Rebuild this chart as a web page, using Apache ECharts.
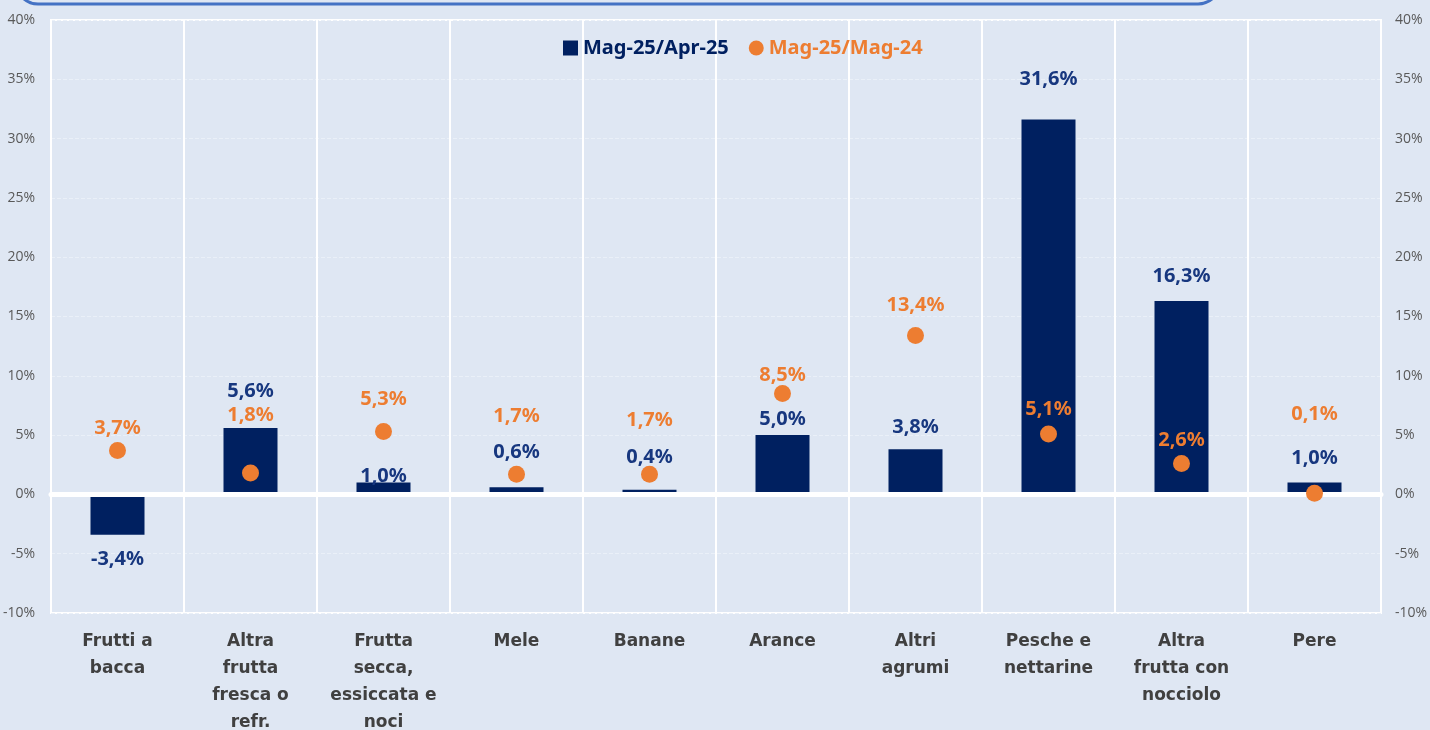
<!DOCTYPE html>
<html>
<head>
<meta charset="utf-8">
<script src="https://cdn.jsdelivr.net/npm/echarts@6/dist/echarts.min.js"></script>
<style>
  html, body { margin: 0; padding: 0; background: #dfe7f3; }
  #chart { width: 1430px; height: 730px; }
</style>
</head>
<body>
<div id="chart"></div>
<script>
// categorie e valori (variazioni %)
const categories = ['Frutti a\nbacca', 'Altra\nfrutta\nfresca o\nrefr.', 'Frutta\nsecca,\nessiccata e\nnoci', 'Mele', 'Banane',
  'Arance', 'Altri\nagrumi', 'Pesche e\nnettarine', 'Altra\nfrutta con\nnocciolo', 'Pere'];
const congiunturale = [-3.4, 5.6, 1.0, 0.6, 0.4, 5.0, 3.8, 31.6, 16.3, 1.0];   // Mag-25/Apr-25
const tendenziale = [3.7, 1.8, 5.3, 1.7, 1.7, 8.5, 13.4, 5.1, 2.6, 0.1];      // Mag-25/Mag-24
const yTicks = { min: -10, max: 40, interval: 5 };

// spostamenti manuali delle etichette (come nel grafico excel)
const barLabelDy = [6, -18, 13, -16, -13, 3, -3, -21, -6, -5];
const dotLabelDy = [-1, -36, -11, -36, -32, 3, -9, -3, -2, -57];

const navy = '#002060';
const navyText = '#17377f';
const orange = '#ed7d31';
const fmt = v => v.toFixed(1).replace('.', ',') + '%';

let chart = echarts.init(document.getElementById('chart'));

let option = {
  backgroundColor: '#dfe7f3',
  animation: false,
  graphic: [{
    type: 'rect',
    shape: { x: 16, y: -40, width: 1204, height: 44, r: 22 },
    style: { fill: 'none', stroke: '#4472c4', lineWidth: 3 }
  }],
  legend: {
    top: 33,
    left: 558,
    itemGap: 20,
    itemWidth: 15,
    itemHeight: 15,
    itemStyle: { borderWidth: 0 },
    textStyle: { fontFamily: 'Noto Sans', fontWeight: 'bold', fontSize: 20 },
    data: [
      { name: 'Mag-25/Apr-25', icon: 'rect', textStyle: { color: navy } },
      { name: 'Mag-25/Mag-24', icon: 'circle', textStyle: { color: orange } }
    ]
  },
  grid: {
    left: 51, right: 49, top: 20, bottom: 117,
    outerBoundsMode: 'none',
    containLabel: false,
    show: true, borderColor: '#ffffff', borderWidth: 2
  },
  xAxis: {
    type: 'category',
    data: categories,
    z: 3,
    axisLine: { onZero: true, lineStyle: { color: '#ffffff', width: 5 } },
    axisTick: { show: false },
    splitLine: { show: true, lineStyle: { color: '#ffffff', width: 2 } },
    axisLabel: {
      interval: 0,
      margin: 15,
      color: '#404040',
      fontFamily: 'DejaVu Sans',
      fontWeight: 'bold',
      fontSize: 17,
      lineHeight: 27
    }
  },
  yAxis: [{
    type: 'value',
    min: yTicks.min, max: yTicks.max, interval: yTicks.interval,
    axisLine: { show: false },
    axisTick: { show: false },
    splitLine: { show: true, lineStyle: { color: '#eaf0f8', type: 'dashed', width: 1 } },
    axisLabel: { formatter: v => v + '%', color: '#595959', fontFamily: 'Open Sans', fontSize: 14, margin: 16 }
  }, {
    type: 'value',
    min: yTicks.min, max: yTicks.max, interval: yTicks.interval,
    axisLine: { show: false },
    axisTick: { show: false },
    splitLine: { show: false },
    axisLabel: { formatter: v => v + '%', color: '#595959', fontFamily: 'Open Sans', fontSize: 14, margin: 14 }
  }],
  series: [{
    name: 'Mag-25/Apr-25',
    type: 'bar',
    z: 2,
    barWidth: 54,
    itemStyle: { color: navy },
    label: {
      show: true,
      color: navyText,
      fontFamily: 'Noto Sans',
      fontWeight: 'bold',
      fontSize: 20,
      distance: 9,
      formatter: p => fmt(p.value)
    },
    data: congiunturale.map((v, i) => ({
      value: v,
      label: { position: v < 0 ? 'bottom' : 'top', offset: [0, barLabelDy[i]] }
    }))
  }, {
    name: 'Mag-25/Mag-24',
    type: 'scatter',
    z: 4,
    symbol: 'circle',
    symbolSize: 17,
    itemStyle: { color: orange, opacity: 1 },
    label: {
      show: true,
      position: 'top',
      distance: 3,
      color: orange,
      fontFamily: 'Noto Sans',
      fontWeight: 'bold',
      fontSize: 20,
      formatter: p => fmt(p.value)
    },
    data: tendenziale.map((v, i) => ({
      value: v,
      label: { offset: [0, dotLabelDy[i]] }
    }))
  }]
};

chart.setOption(option);
</script>
</body>
</html>
